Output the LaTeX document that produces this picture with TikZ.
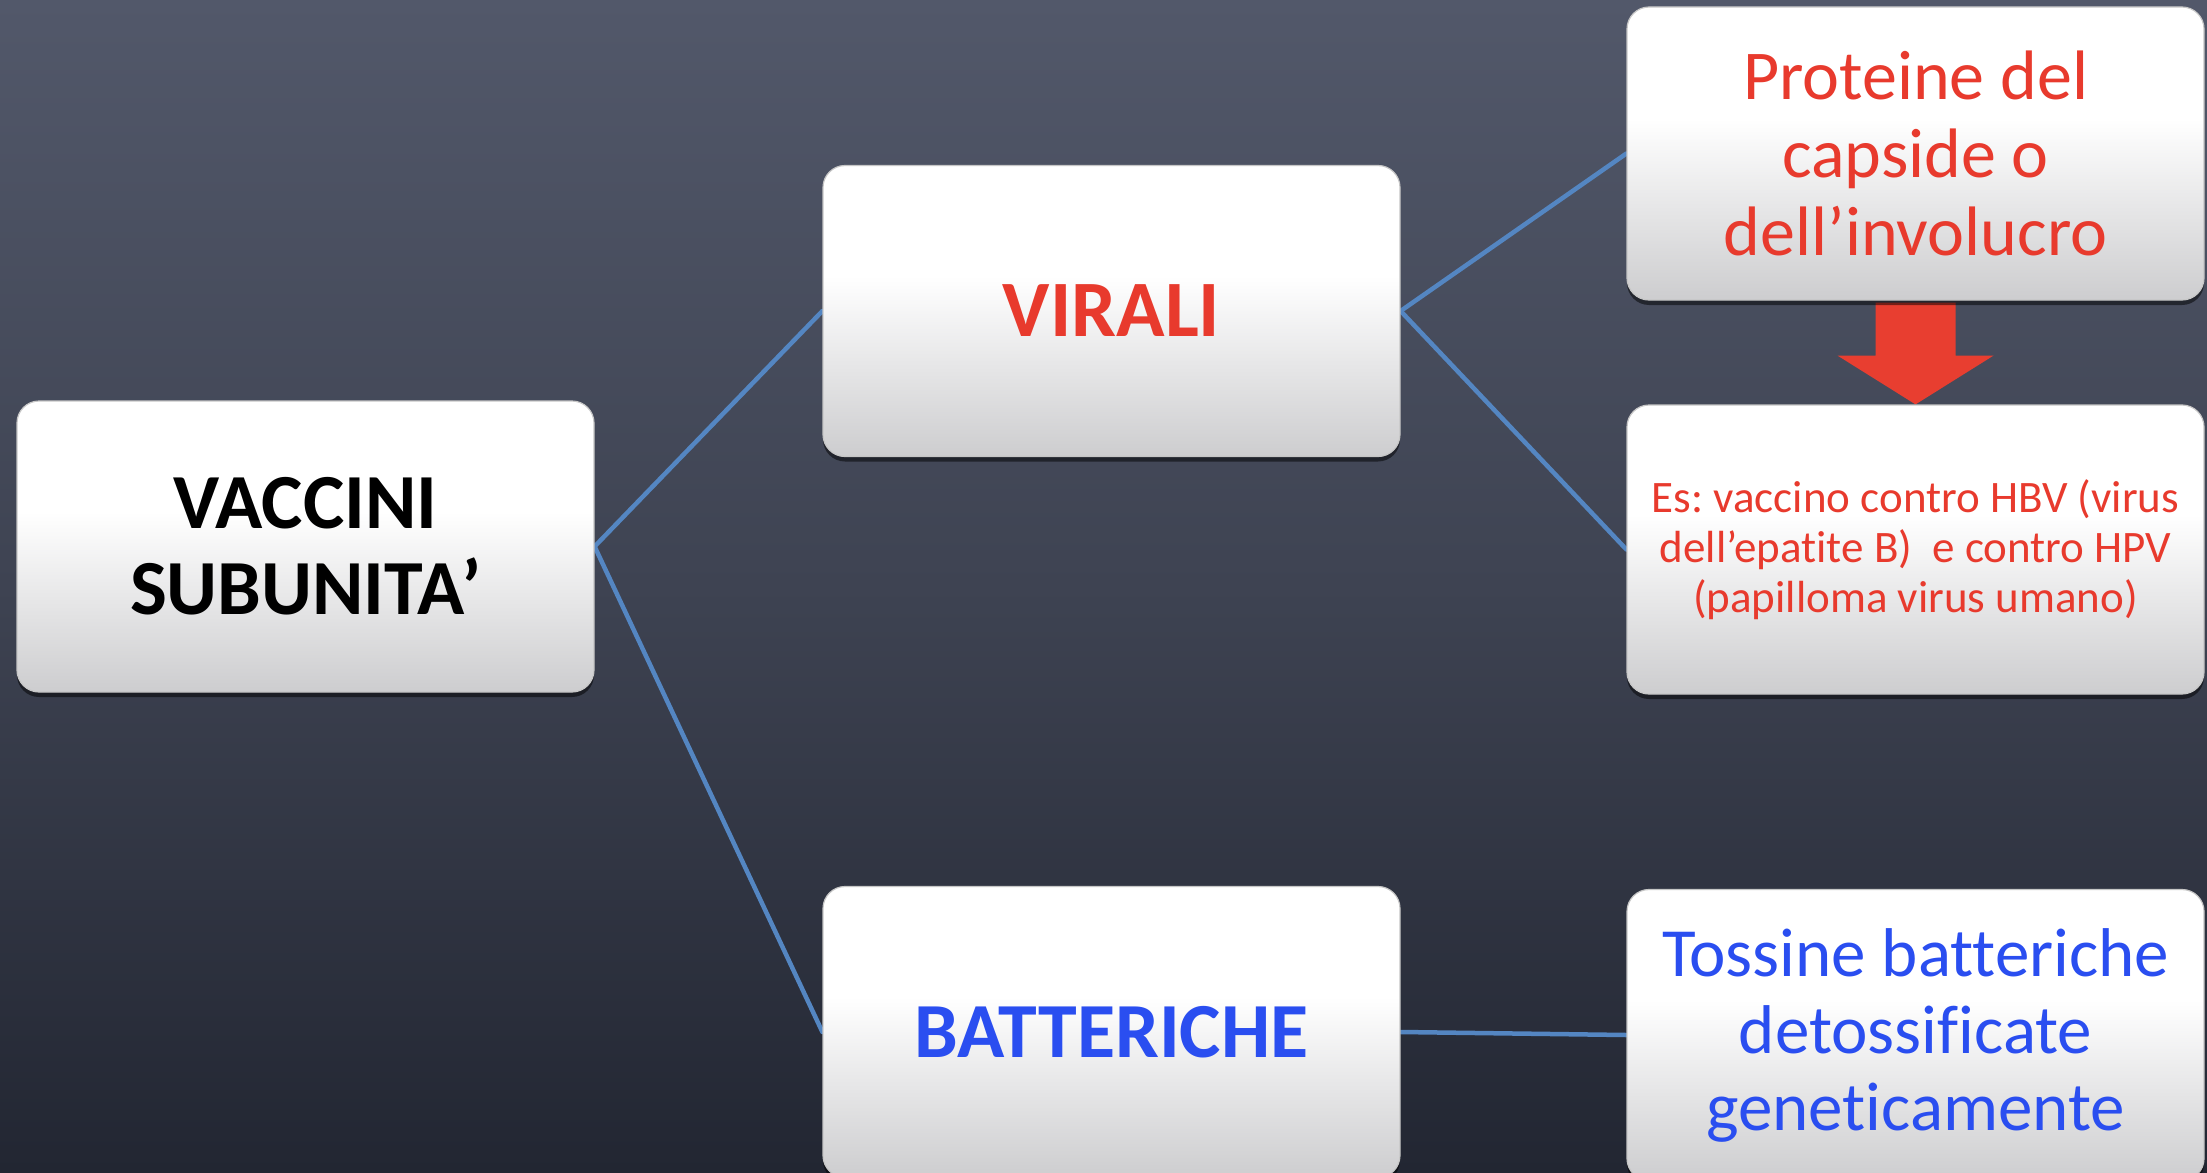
\documentclass[tikz,border=0pt]{standalone}
\usepackage{fontspec}
\setmainfont{Carlito}[RawFeature={-liga;-clig;-calt;-dlig}]
\frenchspacing
\usetikzlibrary{calc,shadows}

\definecolor{bgtop}{RGB}{82,88,106}
\definecolor{bgmid}{RGB}{62,67,82}
\definecolor{bgbot}{RGB}{34,38,50}
\definecolor{boxbot}{RGB}{205,205,207}
\definecolor{linkblue}{RGB}{84,134,194}
\definecolor{txtred}{RGB}{232,58,45}
\definecolor{txtblue}{RGB}{42,78,240}
\definecolor{arrowred}{RGB}{232,62,48}

\pgfdeclareverticalshading{boxshade}{100bp}{color(0bp)=(boxbot); color(25bp)=(boxbot); color(56bp)=(white); color(75bp)=(white); color(100bp)=(white)}

\pgfdeclarelayer{under}
\pgfdeclarelayer{links}
\pgfsetlayers{under,links,main}

\tikzset{
  card/.style={rectangle, rounded corners=22pt, minimum width=577pt, minimum height=291pt,
    inner sep=0pt, shading=boxshade, draw=gray!45, line width=1.2pt, align=center,
    drop shadow={shadow xshift=0pt, shadow yshift=-5pt, opacity=0.5, fill=black}},
  link/.style={draw=linkblue, line width=4.5pt, line cap=round},
  headtxt/.style={font=\fontsize{78}{86}\selectfont\bfseries},
}

\begin{document}
\begin{tikzpicture}[x=1pt,y=-1pt]
\useasboundingbox (0,0) rectangle (2207,1172);

% chalkboard background
\begin{pgfonlayer}{under}
\fill[top color=bgtop, bottom color=bgbot, middle color=bgmid] (0,0) rectangle (2207,1172);
\end{pgfonlayer}

% boxes
\node[card, headtxt, text=black] (vacc) at (305.5,546.5) {VACCINI\\SUBUNITA’};
\node[card, headtxt, text=txtred, font=\fontsize{80}{88}\selectfont\bfseries] (vir) at (1111.5,311) {VIRALI};
\node[card, headtxt, text=txtblue] (batt) at (1111.5,1032) {BATTERICHE};
\node[card, text=txtred, font=\fontsize{70}{78}\selectfont, minimum height=293pt] (prot) at (1915.5,153.5) {Proteine del\\capside o\\dell’involucro};
\node[card, text=txtred, font=\fontsize{45}{50}\selectfont, minimum height=289pt] (es) at (1915.5,549.5)
  {Es: vaccino contro HBV (virus\\dell’epatite B)~ e contro HPV\\(papilloma virus umano)};
\node[card, text=txtblue, font=\fontsize{69}{77}\selectfont] (toss) at (1915.5,1035) {Tossine batteriche\\detossificate\\geneticamente};

% connectors and block arrow, kept behind the boxes
\begin{pgfonlayer}{links}
\draw[link] (vacc.east) -- (vir.west);
\draw[link] (vacc.east) -- (batt.west);
\draw[link] (vir.east) -- (prot.west);
\draw[link] (vir.east) -- (es.west);
\draw[link] (batt.east) -- (toss.west);
\fill[arrowred] ($(prot.south)+(-40,2)$) -- ($(prot.south)+(40,2)$) -- ($(prot.south)+(40,55)$)
  -- ($(prot.south)+(78,55)$) -- (es.north) -- ($(prot.south)+(-78,55)$) -- ($(prot.south)+(-40,55)$) -- cycle;
\end{pgfonlayer}
\end{tikzpicture}
\end{document}
